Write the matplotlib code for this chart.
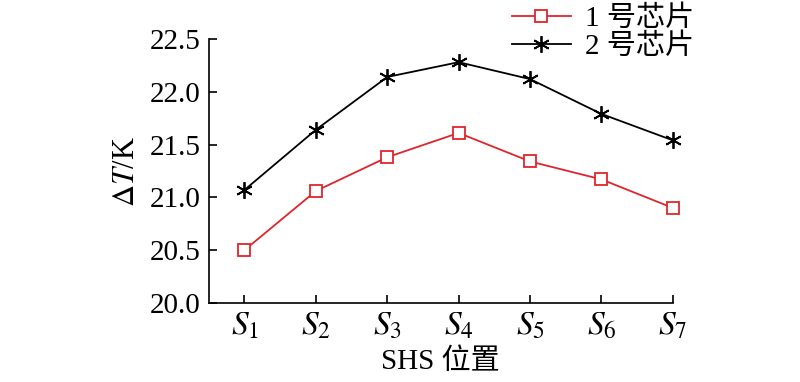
import matplotlib
matplotlib.use("Agg")
import matplotlib.pyplot as plt

plt.rcParams["font.family"] = ["Liberation Serif", "Noto Sans CJK SC"]
plt.rcParams["mathtext.fontset"] = "stix"

positions = [1, 2, 3, 4, 5, 6, 7]
tick_labels = [rf"$S_{i}$" for i in positions]
chip1 = [20.50, 21.06, 21.38, 21.61, 21.34, 21.17, 20.90]
chip2 = [21.07, 21.64, 22.14, 22.28, 22.12, 21.79, 21.54]
series_names = ["1 号芯片", "2 号芯片"]

fig = plt.figure(figsize=(8, 3.82), dpi=100)
ax = fig.add_axes([0.261, 0.207, 0.58, 0.691])

ax.plot(positions, chip1, color="#e0242b", lw=1.3, marker="s", ms=8,
        mfc="white", mec="#e0242b", mew=1.3, label=series_names[0], clip_on=False)
ax.plot(positions, chip2, color="black", lw=1.3, marker=(6, 2, 0), ms=12,
        mew=1.3, label=series_names[1], clip_on=False)

ax.set_xlim(0.5, 7)
ax.set_ylim(20.0, 22.5)
ax.set_xticks(positions)
ax.set_xticklabels(tick_labels, fontsize=24)
ax.set_yticks([20.0, 20.5, 21.0, 21.5, 22.0, 22.5])
ax.set_yticklabels(["20.0", "20.5", "21.0", "21.5", "22.0", "22.5"], fontsize=21)
ax.tick_params(direction="in", length=6, width=1.2, pad=6)
ax.spines["top"].set_visible(False)
ax.spines["right"].set_visible(False)
for s in ("left", "bottom"):
    ax.spines[s].set_linewidth(1.2)

ax.set_ylabel(r"$\Delta\mathit{T}$/K", fontsize=22, labelpad=6)
ax.set_xlabel("SHS 位置", fontsize=21, labelpad=5)

ax.legend(loc="upper right", bbox_to_anchor=(0.868, 0.985), bbox_transform=fig.transFigure,
          frameon=False, fontsize=21, handlelength=2.0, handletextpad=0.5,
          labelspacing=0.05, borderaxespad=0, borderpad=0)

fig.savefig("out.png", dpi=100)
